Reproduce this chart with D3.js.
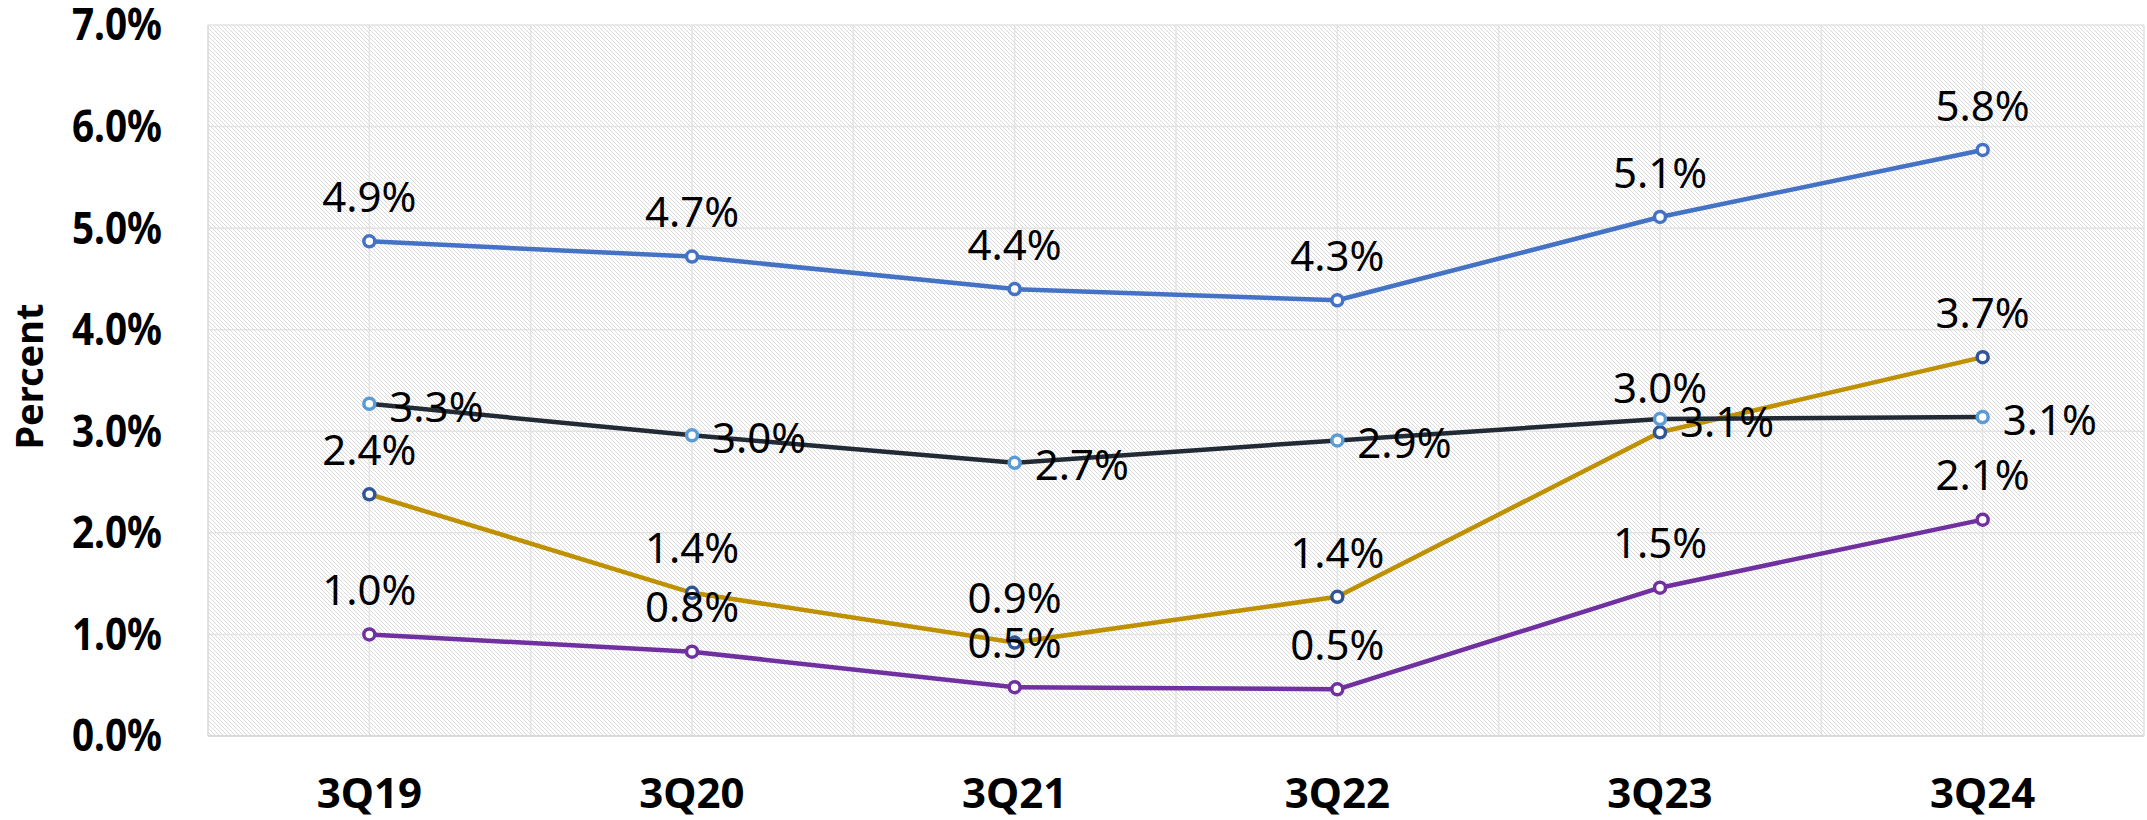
<!DOCTYPE html>
<html>
<head>
<meta charset="utf-8">
<script src="https://cdn.jsdelivr.net/npm/d3@7"></script>
<style>
  body { margin: 0; background: #fff; }
  text { font-family: "Noto Sans", sans-serif; }
</style>
</head>
<body>
<div id="viz"></div>
<script>
const w = 2147;
const h = 820;

// chart data
const categories = ['3Q19', '3Q20', '3Q21', '3Q22', '3Q23', '3Q24'];
const blueValues = [4.87, 4.72, 4.40, 4.29, 5.11, 5.77];
const navyValues = [3.27, 2.96, 2.69, 2.91, 3.12, 3.14];
const goldValues = [2.38, 1.41, 0.92, 1.37, 2.99, 3.73];
const purpleValues = [1.00, 0.83, 0.48, 0.46, 1.46, 2.13];
const yTicks = [0, 1, 2, 3, 4, 5, 6, 7];

const series = [
    { values: blueValues, line: '#4472C4', marker: '#4472C4', label: 'above' },
    { values: goldValues, line: '#BF9000', marker: '#2F5597', label: 'above' },
    { values: purpleValues, line: '#7030A0', marker: '#7030A0', label: 'above' },
    { values: navyValues, line: '#222A35', marker: '#5B9BD5', label: 'right' }
];

const plot = { left: 208, right: 2144, top: 25, bottom: 736 };

const svg = d3.select('#viz').append('svg')
    .attr('width', w)
    .attr('height', h);

// light downward diagonal pattern for the plot area
const pattern = svg.append('defs').append('pattern')
    .attr('id', 'hatch')
    .attr('patternUnits', 'userSpaceOnUse')
    .attr('width', 4)
    .attr('height', 4);
pattern.append('rect').attr('width', 4).attr('height', 4).attr('fill', '#fff');
pattern.selectAll('.dot')
    .data([0, 1, 2, 3])
    .join('rect')
    .attr('x', d => d)
    .attr('y', d => d)
    .attr('width', 1)
    .attr('height', 1)
    .attr('fill', '#dadada');

const x = d3.scalePoint()
    .domain(categories)
    .range([plot.left, plot.right])
    .padding(0.5);

const y = d3.scaleLinear()
    .domain([0, 7])
    .range([plot.bottom, plot.top]);

svg.append('rect')
    .attr('x', plot.left)
    .attr('y', plot.top)
    .attr('width', plot.right - plot.left)
    .attr('height', plot.bottom - plot.top)
    .attr('fill', 'url(#hatch)');

// gridlines
const grid = svg.append('g')
    .attr('stroke', '#e3e3e3')
    .attr('stroke-width', 1.5);

grid.selectAll('.hgrid')
    .data(yTicks)
    .join('line')
    .attr('x1', plot.left)
    .attr('x2', plot.right)
    .attr('y1', d => y(d))
    .attr('y2', d => y(d));

const step = x.step();
let vLines = [];
categories.forEach(c => { vLines.push(x(c)); vLines.push(x(c) + step / 2); });

grid.selectAll('.vgrid')
    .data(vLines)
    .join('line')
    .attr('x1', d => d)
    .attr('x2', d => d)
    .attr('y1', plot.top)
    .attr('y2', plot.bottom);

svg.append('line')
    .attr('x1', plot.left).attr('x2', plot.left)
    .attr('y1', plot.top).attr('y2', plot.bottom)
    .attr('stroke', '#d9d9d9').attr('stroke-width', 1.5);
svg.append('line')
    .attr('x1', plot.left).attr('x2', plot.right)
    .attr('y1', plot.bottom).attr('y2', plot.bottom)
    .attr('stroke', '#d9d9d9').attr('stroke-width', 2);

// axes labels
svg.append('g')
    .selectAll('text')
    .data(yTicks)
    .join('text')
    .attr('transform', d => `translate(162,${y(d)}) scale(0.88,1)`)
    .attr('dy', '0.35em')
    .attr('text-anchor', 'end')
    .attr('font-size', 44)
    .attr('font-weight', 'bold')
    .text(d => d.toFixed(1) + '%');

svg.append('g')
    .selectAll('text')
    .data(categories)
    .join('text')
    .attr('x', d => x(d))
    .attr('y', 793)
    .attr('dy', '0.35em')
    .attr('text-anchor', 'middle')
    .attr('font-size', 42)
    .attr('font-weight', 'bold')
    .text(d => d);

svg.append('text')
    .attr('transform', `translate(30,${(plot.top + plot.bottom) / 2 - 4}) rotate(-90)`)
    .attr('dy', '0.35em')
    .attr('text-anchor', 'middle')
    .attr('font-size', 38)
    .attr('font-weight', 'bold')
    .text('Percent');

// lines and markers
const line = d3.line()
    .x((d, i) => x(categories[i]))
    .y(d => y(d));

series.forEach(s => {
    let g = svg.append('g');
    g.append('path')
        .attr('d', line(s.values))
        .attr('fill', 'none')
        .attr('stroke', s.line)
        .attr('stroke-width', 4.5)
        .attr('stroke-linejoin', 'round');
    g.selectAll('circle')
        .data(s.values)
        .join('circle')
        .attr('cx', (d, i) => x(categories[i]))
        .attr('cy', d => y(d))
        .attr('r', 5.5)
        .attr('fill', '#fff')
        .attr('stroke', s.marker)
        .attr('stroke-width', 3.5);
});

// data labels
series.forEach(s => {
    svg.append('g')
        .selectAll('text')
        .data(s.values)
        .join('text')
        .attr('x', (d, i) => x(categories[i]) + (s.label === 'right' ? 20 : 0))
        .attr('y', d => y(d) + (s.label === 'right' ? 3 : -44))
        .attr('dy', '0.35em')
        .attr('text-anchor', s.label === 'right' ? 'start' : 'middle')
        .attr('font-size', 42)
        .attr('fill', '#000')
        .text(d => d.toFixed(1) + '%');
});
</script>
</body>
</html>
